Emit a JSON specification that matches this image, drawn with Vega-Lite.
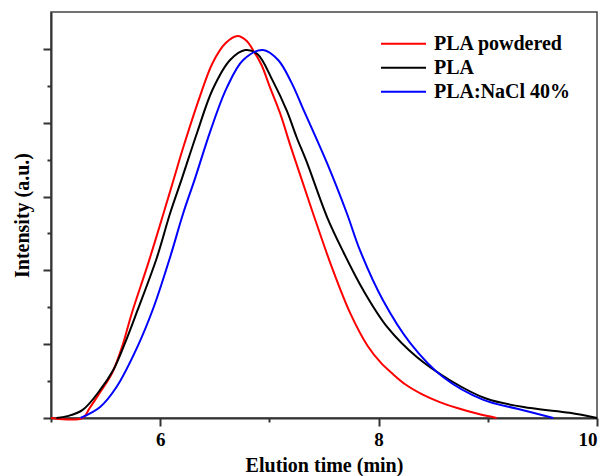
{
  "$schema": "https://vega.github.io/schema/vega-lite/v6.json",
  "width": 546,
  "height": 406,
  "autosize": {"type": "none"},
  "padding": {"left": 51, "top": 12, "right": 7, "bottom": 58},
  "background": "white",
  "config": {
    "view": {"stroke": "#444", "strokeWidth": 1.5},
    "font": "Liberation Serif"
  },
  "data": {
    "values": [
      {"s": "PLA powdered", "t": 5.0, "v": 0},
      {"s": "PLA powdered", "t": 5.29, "v": 0},
      {"s": "PLA powdered", "t": 5.35, "v": 0.25},
      {"s": "PLA powdered", "t": 5.45, "v": 0.7},
      {"s": "PLA powdered", "t": 5.56, "v": 1.22},
      {"s": "PLA powdered", "t": 5.65, "v": 1.92},
      {"s": "PLA powdered", "t": 5.74, "v": 2.84},
      {"s": "PLA powdered", "t": 5.89, "v": 4.19},
      {"s": "PLA powdered", "t": 6.03, "v": 5.54},
      {"s": "PLA powdered", "t": 6.12, "v": 6.43},
      {"s": "PLA powdered", "t": 6.21, "v": 7.32},
      {"s": "PLA powdered", "t": 6.36, "v": 8.68},
      {"s": "PLA powdered", "t": 6.48, "v": 9.62},
      {"s": "PLA powdered", "t": 6.6, "v": 10.16},
      {"s": "PLA powdered", "t": 6.71, "v": 10.35},
      {"s": "PLA powdered", "t": 6.79, "v": 10.22},
      {"s": "PLA powdered", "t": 6.86, "v": 9.92},
      {"s": "PLA powdered", "t": 6.93, "v": 9.55},
      {"s": "PLA powdered", "t": 7.0, "v": 9.0},
      {"s": "PLA powdered", "t": 7.1, "v": 8.24},
      {"s": "PLA powdered", "t": 7.19, "v": 7.4},
      {"s": "PLA powdered", "t": 7.28, "v": 6.6},
      {"s": "PLA powdered", "t": 7.4, "v": 5.54},
      {"s": "PLA powdered", "t": 7.57, "v": 4.1},
      {"s": "PLA powdered", "t": 7.74, "v": 2.84},
      {"s": "PLA powdered", "t": 7.9, "v": 1.95},
      {"s": "PLA powdered", "t": 8.02, "v": 1.5},
      {"s": "PLA powdered", "t": 8.12, "v": 1.22},
      {"s": "PLA powdered", "t": 8.25, "v": 0.9},
      {"s": "PLA powdered", "t": 8.4, "v": 0.64},
      {"s": "PLA powdered", "t": 8.56, "v": 0.43},
      {"s": "PLA powdered", "t": 8.72, "v": 0.27},
      {"s": "PLA powdered", "t": 8.9, "v": 0.12},
      {"s": "PLA powdered", "t": 9.08, "v": 0},
      {"s": "PLA", "t": 5.05, "v": 0},
      {"s": "PLA", "t": 5.15, "v": 0.05},
      {"s": "PLA", "t": 5.29, "v": 0.22},
      {"s": "PLA", "t": 5.45, "v": 0.76},
      {"s": "PLA", "t": 5.57, "v": 1.3},
      {"s": "PLA", "t": 5.68, "v": 2.05},
      {"s": "PLA", "t": 5.79, "v": 2.9},
      {"s": "PLA", "t": 5.97, "v": 4.35},
      {"s": "PLA", "t": 6.09, "v": 5.54},
      {"s": "PLA", "t": 6.2, "v": 6.5},
      {"s": "PLA", "t": 6.34, "v": 7.75},
      {"s": "PLA", "t": 6.48, "v": 8.9},
      {"s": "PLA", "t": 6.64, "v": 9.7},
      {"s": "PLA", "t": 6.78, "v": 9.97},
      {"s": "PLA", "t": 6.89, "v": 9.86},
      {"s": "PLA", "t": 7.03, "v": 9.14},
      {"s": "PLA", "t": 7.16, "v": 8.32},
      {"s": "PLA", "t": 7.25, "v": 7.6},
      {"s": "PLA", "t": 7.34, "v": 6.95},
      {"s": "PLA", "t": 7.53, "v": 5.43},
      {"s": "PLA", "t": 7.67, "v": 4.54},
      {"s": "PLA", "t": 7.86, "v": 3.46},
      {"s": "PLA", "t": 8.08, "v": 2.46},
      {"s": "PLA", "t": 8.35, "v": 1.65},
      {"s": "PLA", "t": 8.65, "v": 1.03},
      {"s": "PLA", "t": 8.99, "v": 0.52},
      {"s": "PLA", "t": 9.39, "v": 0.27},
      {"s": "PLA", "t": 9.75, "v": 0.14},
      {"s": "PLA", "t": 10.0, "v": 0},
      {"s": "PLA:NaCl 40%", "t": 5.27, "v": 0},
      {"s": "PLA:NaCl 40%", "t": 5.45, "v": 0.3},
      {"s": "PLA:NaCl 40%", "t": 5.6, "v": 0.84},
      {"s": "PLA:NaCl 40%", "t": 5.79, "v": 1.92},
      {"s": "PLA:NaCl 40%", "t": 5.94, "v": 3.0},
      {"s": "PLA:NaCl 40%", "t": 6.09, "v": 4.35},
      {"s": "PLA:NaCl 40%", "t": 6.21, "v": 5.54},
      {"s": "PLA:NaCl 40%", "t": 6.32, "v": 6.5},
      {"s": "PLA:NaCl 40%", "t": 6.46, "v": 7.78},
      {"s": "PLA:NaCl 40%", "t": 6.61, "v": 8.95},
      {"s": "PLA:NaCl 40%", "t": 6.76, "v": 9.7},
      {"s": "PLA:NaCl 40%", "t": 6.94, "v": 9.97},
      {"s": "PLA:NaCl 40%", "t": 7.08, "v": 9.7},
      {"s": "PLA:NaCl 40%", "t": 7.2, "v": 9.1},
      {"s": "PLA:NaCl 40%", "t": 7.32, "v": 8.3},
      {"s": "PLA:NaCl 40%", "t": 7.53, "v": 6.89},
      {"s": "PLA:NaCl 40%", "t": 7.71, "v": 5.54},
      {"s": "PLA:NaCl 40%", "t": 7.83, "v": 4.54},
      {"s": "PLA:NaCl 40%", "t": 8.04, "v": 3.19},
      {"s": "PLA:NaCl 40%", "t": 8.29, "v": 2.03},
      {"s": "PLA:NaCl 40%", "t": 8.59, "v": 1.11},
      {"s": "PLA:NaCl 40%", "t": 8.96, "v": 0.49},
      {"s": "PLA:NaCl 40%", "t": 9.27, "v": 0.25},
      {"s": "PLA:NaCl 40%", "t": 9.6, "v": 0}
    ]
  },
  "mark": {"type": "line", "strokeWidth": 2, "interpolate": "catmull-rom"},
  "encoding": {
    "x": {
      "field": "t", "type": "quantitative",
      "scale": {"domain": [5, 10], "nice": false, "zero": false},
      "axis": {
        "values": [5, 6, 7, 8, 9, 10],
        "labelExpr": "datum.value % 2 == 0 ? datum.label : ''",
        "title": "Elution time (min)",
        "grid": false,
        "domainColor": "#333", "domainWidth": 2,
        "tickColor": "#333", "tickWidth": 2,
        "tickSize": {"condition": {"test": "datum.value % 2 == 0", "value": 8}, "value": 4},
        "labelFont": "Liberation Serif", "labelFontWeight": "bold", "labelFontSize": 19, "labelColor": "black",
        "labelPadding": 4,
        "titleFont": "Liberation Serif", "titleFontWeight": "bold", "titleFontSize": 20, "titleColor": "black",
        "titlePadding": 6
      }
    },
    "y": {
      "field": "v", "type": "quantitative",
      "scale": {"domain": [0, 11], "nice": false},
      "axis": {
        "values": [0, 1, 2, 3, 4, 5, 6, 7, 8, 9, 10],
        "labels": false,
        "title": "Intensity (a.u.)",
        "grid": false,
        "domainColor": "#333", "domainWidth": 2,
        "tickColor": "#333", "tickWidth": 2,
        "tickSize": {"condition": {"test": "datum.value % 2 == 0", "value": 8}, "value": 4},
        "titleFont": "Liberation Serif", "titleFontWeight": "bold", "titleFontSize": 20, "titleColor": "black",
        "titlePadding": 10
      }
    },
    "color": {
      "field": "s", "type": "nominal",
      "scale": {"domain": ["PLA powdered", "PLA", "PLA:NaCl 40%"], "range": ["#ff0000", "#000000", "#0000ff"]},
      "legend": {
        "title": null,
        "orient": "none",
        "legendX": 329,
        "legendY": 20,
        "padding": 0,
        "symbolType": "stroke",
        "symbolSize": 2025,
        "symbolStrokeWidth": 2,
        "clipHeight": 23.5,
        "rowPadding": 0,
        "labelOffset": 7,
        "labelFont": "Liberation Serif", "labelFontWeight": "bold", "labelFontSize": 20, "labelColor": "black",
        "labelLimit": 300
      }
    }
  }
}
